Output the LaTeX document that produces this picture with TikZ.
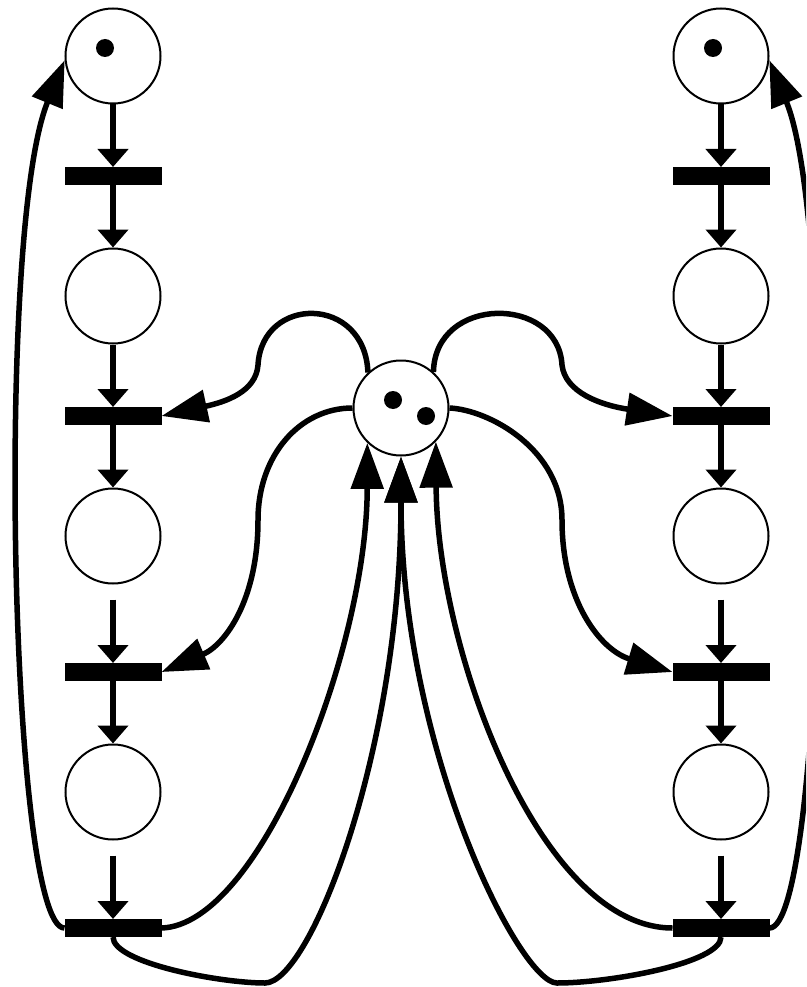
\documentclass[tikz,border=0pt]{standalone}
\usetikzlibrary{arrows.meta}
\begin{document}
\begin{tikzpicture}[x=1pt,y=-1pt,
  place/.style={circle,draw,line width=2pt,minimum size=95pt,inner sep=0pt,fill=white},
  trans/.style={rectangle,fill=black,minimum width=97pt,minimum height=18pt,inner sep=0pt,outer sep=0pt},
  tok/.style={circle,fill=black,minimum size=18pt,inner sep=0pt},
  sarc/.style={line width=5.5pt,-{Triangle[length=18pt,width=30pt]}},
  barc/.style={line width=5.5pt,-{Triangle[length=46pt,width=32pt]}}
]
\fill[white] (0,0) rectangle (806,987);
\useasboundingbox (0,0) rectangle (806,987);
\clip (0,0) rectangle (806,987);
% places
\node[place] (p1l) at (113,56) {};
\node[place] (p2l) at (113,296) {};
\node[place] (p3l) at (113,536) {};
\node[place] (p4l) at (113,792) {};
\node[place] (p1r) at (721,56) {};
\node[place] (p2r) at (721,296) {};
\node[place] (p3r) at (721,536) {};
\node[place] (p4r) at (721,792) {};
\node[place] (c) at (401,408) {};
% transitions
\node[trans] (t1l) at (113,176) {};
\node[trans] (t2l) at (113,416) {};
\node[trans] (t3l) at (113,672) {};
\node[trans] (t4l) at (113,928) {};
\node[trans] (t1r) at (721,176) {};
\node[trans] (t2r) at (721,416) {};
\node[trans] (t3r) at (721,672) {};
\node[trans] (t4r) at (721,928) {};
% tokens
\node[tok] (k1) at (105,48) {};
\node[tok] (k2) at (713,48) {};
\node[tok] (k3) at (393,400) {};
\node[tok] (k4) at (426,416) {};
% vertical arcs, left
\draw[sarc] (p1l.south) -- (t1l.north);
\draw[sarc] (t1l.south) -- (p2l.north);
\draw[sarc] (p2l.south) -- (t2l.north);
\draw[sarc] (t2l.south) -- (p3l.north);
\draw[sarc,shorten <=15pt] (p3l.south) -- (t3l.north);
\draw[sarc] (t3l.south) -- (p4l.north);
\draw[sarc,shorten <=15pt] (p4l.south) -- (t4l.north);
% vertical arcs, right
\draw[sarc] (p1r.south) -- (t1r.north);
\draw[sarc] (t1r.south) -- (p2r.north);
\draw[sarc] (p2r.south) -- (t2r.north);
\draw[sarc] (t2r.south) -- (p3r.north);
\draw[sarc,shorten <=15pt] (p3r.south) -- (t3r.north);
\draw[sarc] (t3r.south) -- (p4r.north);
\draw[sarc,shorten <=15pt] (p4r.south) -- (t4r.north);
% return arcs
\draw[barc] (t4l.west) .. controls (10,928) and (-5,230) .. (p1l.185);
\draw[barc] (t4r.east) .. controls (824,928) and (839,230) .. (p1r.-5);
% central place to transitions
\draw[barc] (c.133) .. controls (365,295) and (262,295) .. (258,365) .. controls (256,392) and (225,402) .. (t2l.east);
\draw[barc] (c.48) .. controls (435,295) and (558,295) .. (562,365) .. controls (565,392) and (600,405) .. (t2r.west);
\draw[barc] (c.west) .. controls (300,408) and (258,455) .. (258,520) .. controls (258,600) and (225,645) .. (t3l.east);
\draw[barc] (c.east) .. controls (490,410) and (562,450) .. (562,520) .. controls (562,600) and (600,650) .. (t3r.west);
% transitions back to central place
\draw[barc] (t4l.east) .. controls (260,925) and (367,650) .. (c.226);
\draw[barc] (t4r.west) .. controls (540,928) and (437,650) .. (c.316);
\draw[barc] (t4l.south) .. controls (113,963) and (220,983) .. (265,983) .. controls (310,983) and (401,750) .. (c.south);
\draw[barc] (t4r.south) .. controls (721,963) and (610,983) .. (557,983) .. controls (520,983) and (401,750) .. (c.south);
\end{tikzpicture}
\end{document}
